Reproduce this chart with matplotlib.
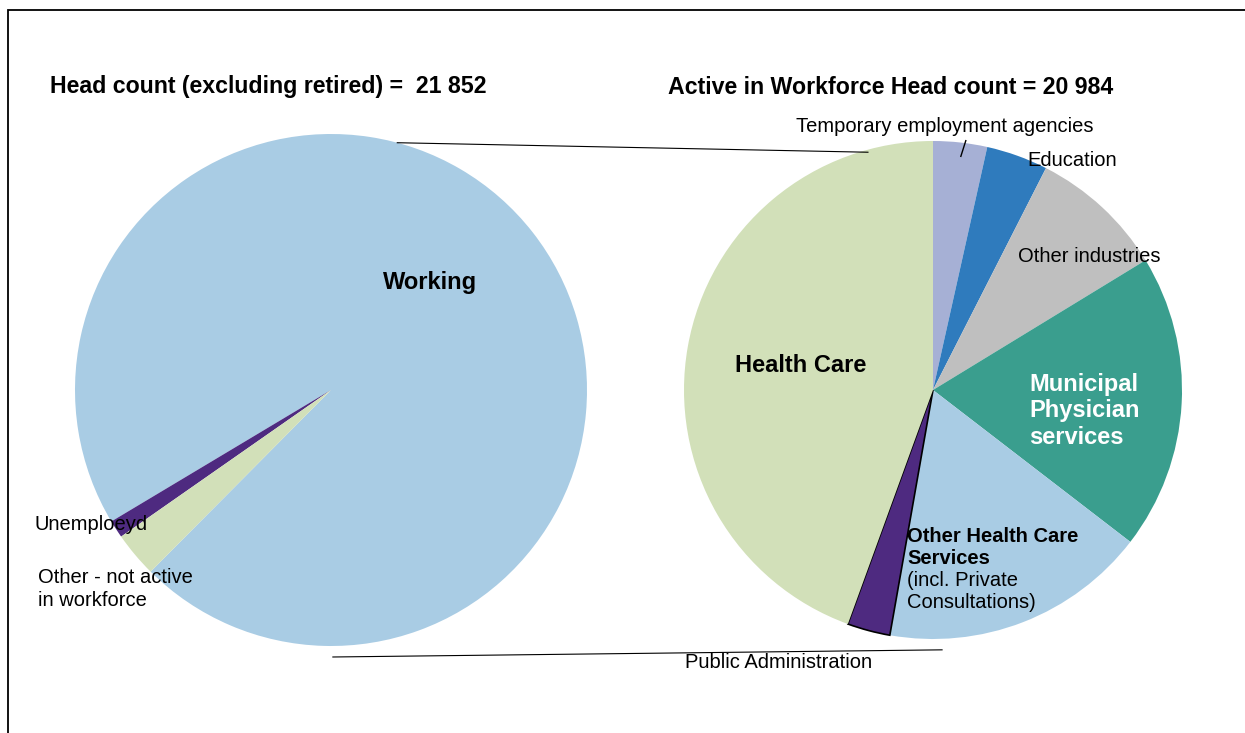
import matplotlib

matplotlib.use("Agg")
import matplotlib.pyplot as plt
import numpy as np
from matplotlib.patches import Rectangle

plt.rcParams["font.family"] = ["Liberation Sans", "DejaVu Sans"]

# left pie: head count excluding retired (21 852)
left_labels = ["Working", "Unemploeyd", "Other - not active\nin workforce"]
left_values = [20984, 245, 623]
left_colors = ["#a9cce4", "#4e2a80", "#d2e0b9"]

# right pie: active in workforce (20 984)
right_labels = [
    "Temporary employment agencies",
    "Education",
    "Other industries",
    "Municipal\nPhysician\nservices",
    "Other Health Care Services",
    "Public Administration",
    "Health Care",
]
right_values = [734, 839, 1842, 4022, 3637, 583, 9327]
right_colors = ["#a6b0d5", "#2f7bbd", "#bfbfbf", "#3a9e8e", "#a9cce4", "#4e2a80", "#d2e0b9"]

W, H = 1245, 733
LC, LR = (331, H - 390), 256
RC, RR = (933, H - 390), 249

TITLE = 16.7
BIG = 17
SMALL = 14.5


def pt(center, r, ang):
    a = np.deg2rad(ang)
    return center[0] + r * np.cos(a), center[1] + r * np.sin(a)


def main():
    fig = plt.figure(figsize=(W / 100, H / 100), dpi=100)
    ax = fig.add_axes([0, 0, 1, 1])

    # frame (left + top only visible)
    fig.patches.append(
        Rectangle((8 / W, -0.1), 1.2, 1.1 - 10 / H, transform=fig.transFigure,
                  fill=False, edgecolor="black", linewidth=1.3)
    )

    ax.pie(left_values, colors=left_colors, center=LC, radius=LR,
           startangle=225.2, counterclock=True,
           wedgeprops=dict(linewidth=0))
    wedges, _ = ax.pie(right_values, colors=right_colors, center=RC, radius=RR,
                       startangle=90, counterclock=False,
                       wedgeprops=dict(linewidth=0))
    wedges[5].set_edgecolor("black")
    wedges[5].set_linewidth(1.2)

    ax.set_xlim(0, W)
    ax.set_ylim(0, H)
    ax.set_aspect("equal")
    ax.axis("off")

    # connector lines between the pies
    x0, y0 = pt(LC, LR, 75)
    x1, y1 = pt(RC, RR * 0.99, 105.3)
    ax.plot([x0, x1], [y0, y1], color="black", lw=0.8)
    x0, y0 = pt(LC, 267, -89.6)
    x1, y1 = pt(RC, 260, -88)
    ax.plot([x0, x1], [y0, y1], color="black", lw=0.8)

    # leader for the temporary agencies slice
    w = wedges[0]
    mid = (w.theta1 + w.theta2) / 2
    xa, ya = pt(RC, RR * 0.945, mid - 0.5)
    xb, yb = pt(RC, RR * 1.01, mid - 1.2)
    ax.plot([xa, xb], [ya, yb], color="black", lw=1)

    ax.text(50, H - 87, "Head count (excluding retired) =  21 852",
            fontsize=TITLE, fontweight="bold", ha="left", va="center")
    ax.text(668, H - 87, "Active in Workforce Head count = 20 984",
            fontsize=TITLE, fontweight="bold", ha="left", va="center")

    ax.text(430, H - 282, left_labels[0], fontsize=BIG, fontweight="bold",
            ha="center", va="center")
    ax.text(35, H - 524, left_labels[1], fontsize=SMALL, ha="left", va="center")
    ax.text(38, H - 589, left_labels[2], fontsize=SMALL, ha="left", va="center",
            linespacing=1.22)

    ax.text(945, H - 127, right_labels[0], fontsize=SMALL, ha="center", va="center")
    ax.text(1027, H - 160, right_labels[1], fontsize=SMALL, ha="left", va="center")
    ax.text(1018, H - 256, right_labels[2], fontsize=SMALL, ha="left", va="center")
    ax.text(1029, H - 411, right_labels[3], fontsize=BIG, fontweight="bold",
            color="white", ha="left", va="center", linespacing=1.2)
    ax.text(907, H - 547, "Other Health Care\nServices", fontsize=SMALL,
            fontweight="bold", ha="left", va="center", linespacing=1.2)
    ax.text(907, H - 591, "(incl. Private\nConsultations)", fontsize=SMALL,
            ha="left", va="center", linespacing=1.2)
    ax.text(779, H - 662, right_labels[5], fontsize=SMALL, ha="center", va="center")
    ax.text(801, H - 365, right_labels[6], fontsize=BIG, fontweight="bold",
            ha="center", va="center")

    fig.savefig("out.png", dpi=100)
    plt.close(fig)


if __name__ == "__main__":
    main()
